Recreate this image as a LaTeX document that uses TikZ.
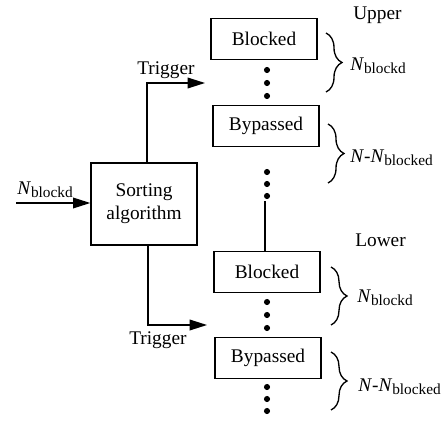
\documentclass[tikz,border=0pt]{standalone}
\usepackage{fontspec}
\setmainfont{Liberation Serif}
\usetikzlibrary{arrows.meta,decorations.pathreplacing}

\newcommand{\lowtxt}[1]{\raisebox{-0.35ex}{\fontsize{11.5}{12}\selectfont #1}}

\begin{document}
\begin{tikzpicture}[
        x=0.75pt, y=-0.75pt,
        font=\fontsize{14.5}{17}\selectfont,
        >={Triangle[length=13pt,width=8pt]},
        box/.style={rectangle, draw, line width=1pt, minimum width=79.5pt, minimum height=30.5pt, inner sep=0pt, align=center},
        sortbox/.style={rectangle, draw, line width=1pt, minimum width=79.5pt, minimum height=61.5pt, inner sep=0pt, align=center},
        pt/.style={circle, fill, inner sep=0pt, minimum size=4.6pt},
        brc/.style={decorate, decoration={brace, amplitude=12pt}, line width=1pt},
        lbl/.style={anchor=west, inner sep=0pt}
    ]
    \useasboundingbox (0,0) rectangle (441,420);

    % Blocchi principali
    \node[sortbox] (sort) at (144,204) {Sorting\\algorithm};

    \node[box] (ublk) at (264,39)  {Blocked};
    \node[box] (ubyp) at (266,126) {Bypassed};
    \node[box] (lblk) at (267,272) {Blocked};
    \node[box] (lbyp) at (268,358) {Bypassed};

    \node[lbl] (upper) at (353,15)  {Upper};
    \node[lbl] (lower) at (355,240) {Lower};

    % Puntini
    \foreach \yy [count=\i] in {70,83,96}   \node[pt] (ua\i) at (267,\yy) {};
    \foreach \yy [count=\i] in {172,184,196} \node[pt] (ub\i) at (267,\yy) {};
    \foreach \yy [count=\i] in {302,315,328} \node[pt] (la\i) at (267,\yy) {};
    \foreach \yy [count=\i] in {387,399,411} \node[pt] (lb\i) at (267,\yy) {};

    \coordinate (gap) at (265,201);
    \draw[line width=1pt] (gap) -- (gap |- lblk.north);

    % Ingresso
    \coordinate (in) at (16,203);
    \draw[->, line width=1pt] (in) -- (sort.west |- in);
    \node[lbl] (nin) at (17,190) {\textit{N}\lowtxt{blockd}};

    % Trigger
    \coordinate (utrig) at (205,83);
    \coordinate (ltrig) at (207,325);
    \draw[->, line width=1pt] (sort.north -| 147,0) |- (utrig);
    \draw[->, line width=1pt] (sort.south -| 148,0) |- (ltrig);
    \node[lbl] (ttop) at (137,70)  {Trigger};
    \node[lbl] (tbot) at (129,340) {Trigger};

    % Parentesi
    \coordinate (b1t) at (326,33);  \coordinate (b1b) at (326,92);
    \coordinate (b2t) at (328,124); \coordinate (b2b) at (328,183);
    \coordinate (b3t) at (331,267); \coordinate (b3b) at (331,325);
    \coordinate (b4t) at (331,352); \coordinate (b4b) at (331,410);
    \draw[brc] (b1t) -- (b1b);
    \draw[brc] (b2t) -- (b2b);
    \draw[brc] (b3t) -- (b3b);
    \draw[brc] (b4t) -- (b4b);
    \node[lbl] (n1) at (350,66)  {\textit{N}\lowtxt{blockd}};
    \node[lbl] (n2) at (350,158) {\textit{N}-\textit{N}\lowtxt{blocked}};
    \node[lbl] (n3) at (357,298) {\textit{N}\lowtxt{blockd}};
    \node[lbl] (n4) at (358,387) {\textit{N}-\textit{N}\lowtxt{blocked}};

\end{tikzpicture}
\end{document}
